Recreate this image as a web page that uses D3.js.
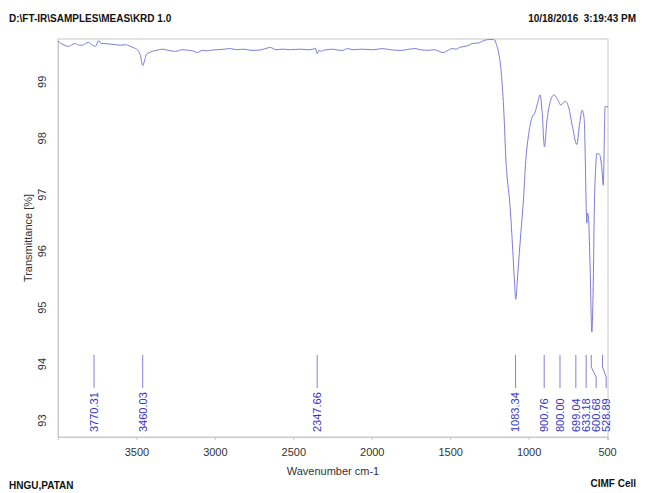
<!DOCTYPE html>
<html>
<head>
<meta charset="utf-8">
<script src="https://cdn.jsdelivr.net/npm/d3@7"></script>
<style>
  body { margin: 0; background: #fff; }
  text { font-family: "Liberation Sans", Arial, sans-serif; }
</style>
</head>
<body>
<script>
// spectrum (wavenumber cm-1, transmittance %)
var wavenumbers = [4000,3990,3960,3933,3910,3889,3865,3844,3825,3806,3785,3761,3742,3725,3710,3670,3634,3600,3570,3540,
  3506,3490,3475,3460,3445,3436,3424,3400,3370,3334,3300,3251,3210,3169,3140,3111,3080,3050,3029,2980,
  2940,2901,2860,2818,2770,2729,2690,2646,2610,2564,2520,2455,2410,2373,2360,2348,2335,2320,2309,2280,
  2245,2210,2182,2156,2120,2060,2000,1960,1933,1880,1840,1806,1760,1723,1690,1640,1600,1570,1545,1520,
  1487,1460,1440,1404,1380,1360,1320,1277,1250,1232,1215,1205,1192,1171,1156,1143,1139,1118,1101,1090,
  1082,1069,1050,1033,1018,1001,980,959,944,927,914,899,884,863,838,817,795,766,746,718,
  693,676,659,646,638,634,629,625,619,608,597,587,581,572,566,549,534,524,517,513,494];
var transmittance = [99.71,99.69,99.64,99.62,99.65,99.67,99.64,99.64,99.67,99.69,99.65,99.62,99.72,99.67,99.67,99.66,99.65,99.64,99.65,99.62,
  99.58,99.55,99.46,99.28,99.40,99.48,99.50,99.53,99.55,99.57,99.55,99.53,99.56,99.55,99.54,99.51,99.55,99.54,99.55,99.56,
  99.57,99.58,99.56,99.57,99.55,99.55,99.57,99.60,99.56,99.57,99.56,99.57,99.56,99.57,99.59,99.49,99.55,99.53,99.55,99.56,
  99.57,99.55,99.55,99.58,99.56,99.57,99.56,99.57,99.58,99.56,99.55,99.55,99.57,99.58,99.56,99.55,99.56,99.53,99.51,99.54,
  99.58,99.57,99.60,99.62,99.64,99.67,99.68,99.73,99.74,99.74,99.73,99.65,99.52,99.05,98.35,97.51,97.37,96.77,96.00,95.45,
  95.14,95.60,96.30,96.90,97.60,98.04,98.35,98.45,98.60,98.76,98.46,97.84,98.28,98.63,98.76,98.69,98.58,98.65,98.55,98.16,
  97.88,98.22,98.49,98.34,97.51,96.90,96.49,96.67,96.60,95.71,94.56,95.60,96.78,97.48,97.72,97.71,97.48,97.16,98.04,98.55,98.55];

var peaks = [3770.31, 3460.03, 2347.66, 1083.34, 900.76, 800.00, 699.04, 633.18, 600.68, 528.89];
var xTicks = [3500, 3000, 2500, 2000, 1500, 1000, 500];
var yTicks = [93, 94, 95, 96, 97, 98, 99];

var width = 646, height = 493;
var plotL = 58, plotR = 608, plotT = 39, plotB = 437;

var svg = d3.select("body").append("svg")
  .attr("width", width)
  .attr("height", height);

var x = d3.scaleLinear().domain([4000, 494]).range([plotL, plotR]);
var y = d3.scaleLinear().domain([92.7, 99.75]).range([plotB, plotT]);

// header / footer
svg.append("text").attr("x", 9).attr("y", 22)
  .style("font-size", "10px").style("font-weight", "bold").attr("fill", "#111")
  .text("D:\\FT-IR\\SAMPLES\\MEAS\\KRD 1.0");
svg.append("text").attr("x", 636).attr("y", 22).attr("text-anchor", "end")
  .attr("xml:space", "preserve")
  .style("font-size", "10px").style("font-weight", "bold").attr("fill", "#111")
  .text("10/18/2016  3:19:43 PM");
svg.append("text").attr("x", 9).attr("y", 489)
  .style("font-size", "10px").style("font-weight", "bold").attr("fill", "#111")
  .text("HNGU,PATAN");
svg.append("text").attr("x", 636).attr("y", 487).attr("text-anchor", "end")
  .style("font-size", "10px").style("font-weight", "bold").attr("fill", "#111")
  .text("CIMF Cell");

// frame
svg.append("rect")
  .attr("x", plotL).attr("y", plotT)
  .attr("width", plotR - plotL).attr("height", plotB - plotT)
  .attr("fill", "none").attr("stroke", "#c8c8c8").attr("stroke-width", 1);

// x axis
var xAxis = d3.axisBottom(x).tickValues(xTicks).tickFormat(d3.format("d")).tickSize(3).tickPadding(8);
var gx = svg.append("g").attr("transform", "translate(0," + plotB + ")").call(xAxis);
gx.select(".domain").attr("stroke", "#c8c8c8");
gx.selectAll(".tick line").attr("stroke", "#c8c8c8");
gx.selectAll(".tick text").attr("fill", "#333").style("font-size", "11px")
  .style("font-family", "'Liberation Sans', Arial, sans-serif");

// y axis (labels rotated)
var yAxis = d3.axisLeft(y).tickValues(yTicks).tickFormat(d3.format("d")).tickSize(0).tickPadding(0);
var gy = svg.append("g").attr("transform", "translate(" + plotL + ",0)").call(yAxis);
gy.select(".domain").attr("stroke", "#c8c8c8");
gy.selectAll(".tick text")
  .attr("x", 0).attr("y", 0)
  .attr("text-anchor", "middle")
  .attr("transform", "translate(-16,0) rotate(-90)")
  .attr("dy", "0.35em")
  .attr("fill", "#333").style("font-size", "11px")
  .style("font-family", "'Liberation Sans', Arial, sans-serif");

// axis titles
svg.append("text")
  .attr("x", (plotL + plotR) / 2).attr("y", 475)
  .attr("text-anchor", "middle").style("font-size", "11px").attr("fill", "#333")
  .text("Wavenumber cm-1");
svg.append("text")
  .attr("transform", "translate(32," + ((plotT + plotB) / 2) + ") rotate(-90)")
  .attr("text-anchor", "middle").style("font-size", "11px").attr("fill", "#333")
  .text("Transmittance [%]");

// spectrum
var pts = wavenumbers.map(function(w, i){ return [w, transmittance[i]]; });
var line = d3.line()
  .x(function(d){ return x(d[0]); })
  .y(function(d){ return y(d[1]); })
  .curve(d3.curveMonotoneX);
svg.append("path")
  .datum(pts)
  .attr("d", line)
  .attr("fill", "none")
  .attr("stroke", "#7c7cdc")
  .attr("stroke-width", 1);

// peak markers: spread labels so they don't overlap
var minGap = 10;
var labelX = [];
peaks.forEach(function(p, i){
  var px = x(p);
  if (i > 0 && px < labelX[i-1] + minGap) px = labelX[i-1] + minGap;
  labelX.push(px);
});
var y0 = 355, y1 = 367, y2 = 377, y3 = 388;
var g = svg.append("g");
g.selectAll("path.peak")
  .data(peaks)
  .enter()
    .append("path")
    .attr("class", "peak")
    .attr("d", function(d, i){
      var px = x(d), lx = labelX[i];
      return "M" + px + "," + y0 + "L" + px + "," + y1 + "L" + lx + "," + y2 + "L" + lx + "," + y3;
    })
    .attr("fill", "none")
    .attr("stroke", "#8282d8")
    .attr("stroke-width", 1);
g.selectAll("text.peak")
  .data(peaks)
  .enter()
    .append("text")
    .attr("class", "peak")
    .attr("transform", function(d, i){ return "translate(" + labelX[i] + ",432) rotate(-90)"; })
    .attr("dy", "0.35em")
    .attr("fill", "#3535c8")
    .style("font-size", "11px")
    .text(function(d){ return d.toFixed(2); });
</script>
</body>
</html>
